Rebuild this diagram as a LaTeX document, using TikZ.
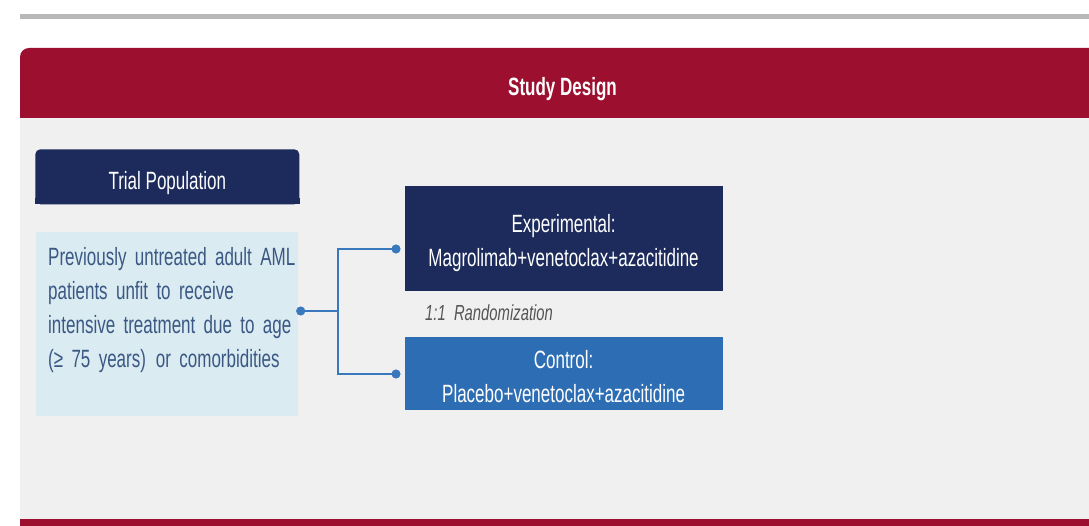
\documentclass[tikz,border=0pt]{standalone}
\usepackage{fontspec}
\setmainfont{Liberation Sans}[FakeStretch=0.68]
\usetikzlibrary{arrows.meta}
\usetikzlibrary{calc}
\setlength\parindent{0pt}
\definecolor{studyred}{HTML}{9C0F2F}
\definecolor{navy}{HTML}{1C2A5C}
\definecolor{ctlblue}{HTML}{2D6DB3}
\definecolor{paleblue}{HTML}{DAEBF2}
\definecolor{panelgray}{HTML}{F0F0F0}
\definecolor{rulegray}{HTML}{B8B8B8}
\definecolor{linkblue}{HTML}{3A78BE}
\definecolor{slate}{HTML}{3A5883}
\definecolor{randgray}{HTML}{555555}
\newcommand{\fullline}[1]{\makebox[242pt][s]{#1}}

\begin{document}
\begin{tikzpicture}[x=1pt,y=-1pt,
every node/.style={font=\fontsize{25}{34}\selectfont,inner sep=0pt},
darkbox/.style={fill=navy,text=white,align=center},
armbox/.style={minimum width=318pt,align=center,text=white},
link/.style={draw=linkblue,line width=2pt}]
\useasboundingbox (0,0) rectangle (1089,526);
\fill[white] (0,0) rectangle (1089,526);
\fill[rulegray] (20,14) rectangle (1089,19);
\fill[panelgray] (20,117) rectangle (1089,519);
\fill[studyred,rounded corners=9pt] (20,48) rectangle (1100,118);
\fill[studyred] (20,100) rectangle (1089,118);
\fill[studyred] (20,519) rectangle (1089,526);
\node[font=\fontsize{25}{34}\selectfont\bfseries,text=white,anchor=base] (title) at (562.5,95.7) {Study Design};

\node[darkbox,rounded corners=5pt,minimum width=264pt,minimum height=55pt,text height=25pt,text depth=0pt] (pop) at (167.3,176.8) {Trial Population};
\fill[navy] ([yshift=6pt]pop.south west) rectangle (pop.south east);
\node[fill=paleblue,minimum width=262pt,minimum height=184.3pt] (popbox) at (167,323.9) {};
\node[text=slate,text width=242pt,align=left,anchor=north west] (popdesc) at (48,246.8)
{\fullline{Previously untreated adult AML}\\
patients unfit to receive\\
\fullline{intensive treatment due to age}\\
(≥ 75 years)\hspace{10pt}or comorbidities};

\node[armbox,fill=navy,minimum height=104.7pt] (exp) at (563.6,238.3) {\rule{0pt}{27pt}Experimental:\\Magrolimab+venetoclax+azacitidine};
\node[armbox,fill=ctlblue,minimum height=72.7pt] (ctl) at (563.6,373.7) {\rule{0pt}{24pt}Control:\\Placebo+venetoclax+azacitidine};
\node[font=\fontsize{21.8}{26}\selectfont\itshape,text=randgray,anchor=base west] (rand) at (425,321) {1:1\ \ Randomization};

\coordinate (src) at (296.2,311);
\coordinate (split) at (338.3,311);
\coordinate (toexp) at (400.5,249);
\coordinate (toctl) at (400.5,374);
\draw[link,{Circle[length=9pt,width=9pt]}-] (src) -- (split);
\draw[link,{Circle[length=9pt,width=9pt]}-{Circle[length=9pt,width=9pt]}] (toexp) -| (split) |- (toctl);
\end{tikzpicture}
\end{document}
